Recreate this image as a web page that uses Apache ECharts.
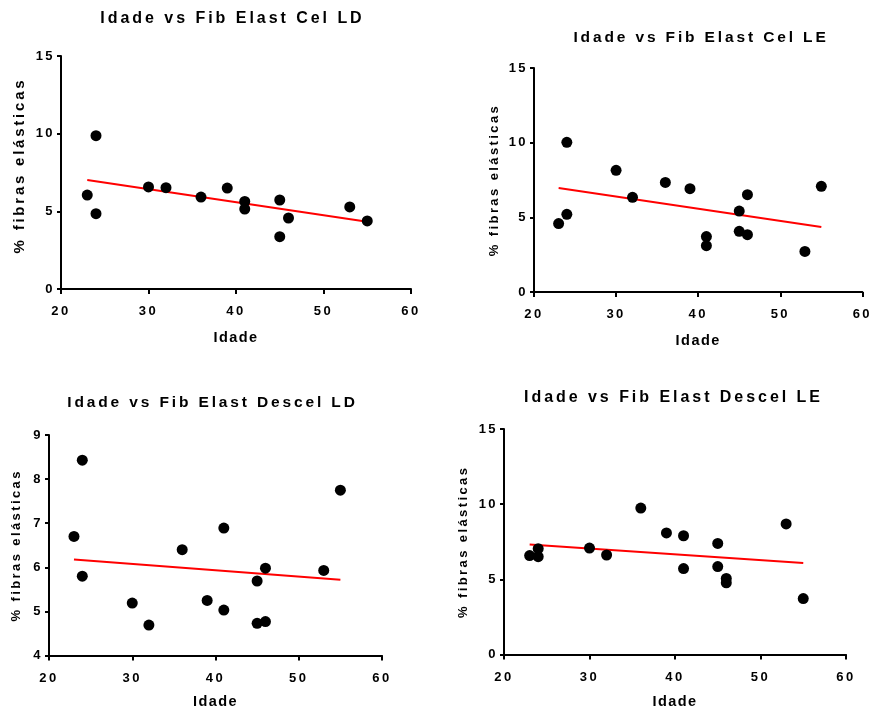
<!DOCTYPE html>
<html>
<head>
<meta charset="utf-8">
<script src="https://cdn.jsdelivr.net/npm/echarts@6/dist/echarts.min.js"></script>
<style>
html,body{margin:0;padding:0;background:#fff;}
#chart{width:875px;height:711px;}
</style>
</head>
<body>
<div id="chart"></div>
<script>
// ---- Data ----
const titles = ['Idade vs Fib Elast Cel LD', 'Idade vs Fib Elast Cel LE', 'Idade vs Fib Elast Descel LD', 'Idade vs Fib Elast Descel LE'];
const xName = 'Idade';
const yName = '% fibras elásticas';

const ageCelLD = [23, 24, 24, 30, 32, 36, 39, 41, 41, 45, 45, 46, 53, 55];
const valCelLD = [6.05, 9.87, 4.85, 6.57, 6.52, 5.92, 6.50, 5.64, 5.15, 5.73, 3.37, 4.57, 5.28, 4.38];

const ageCelLE = [23, 24, 24, 30, 32, 36, 39, 41, 41, 45, 45, 46, 46, 53, 55];
const valCelLE = [4.58, 10.02, 5.20, 8.15, 6.34, 7.34, 6.92, 3.71, 3.10, 5.42, 4.06, 6.52, 3.84, 2.72, 7.08];

const ageDescelLD = [23, 24, 24, 30, 32, 36, 39, 41, 41, 45, 45, 46, 46, 53, 55];
const valDescelLD = [6.70, 8.43, 5.80, 5.19, 4.69, 6.40, 5.25, 6.89, 5.03, 5.69, 4.73, 5.98, 4.77, 5.93, 7.75];

const ageDescelLE = [23, 24, 24, 30, 32, 36, 39, 41, 41, 45, 45, 46, 46, 53, 55];
const valDescelLE = [6.58, 7.04, 6.51, 7.08, 6.62, 9.74, 8.09, 7.90, 5.72, 7.39, 5.85, 5.06, 4.77, 8.69, 3.72];

// regression line endpoints
const fitX = [23, 55];
const fitCelLD = [7.02, 4.33];
const fitCelLE = [6.96, 4.35];
const fitDescelLD = [6.18, 5.72];
const fitDescelLE = [7.32, 6.09];

const xTicks = {min: 20, max: 60, interval: 10};
const yTicksMain = {min: 0, max: 15, interval: 5};
const yTicksDescelLD = {min: 4, max: 9, interval: 1};

// ---- letter spacing like the original (Prism style) ----
(function(){
  const proto = CanvasRenderingContext2D.prototype;
  if (!('letterSpacing' in proto)) return;
  const oFill = proto.fillText, oMeasure = proto.measureText;
  function ls(ctx){
    const f = ctx.font || '';
    const m = /(\d+(?:\.\d+)?)px/.exec(f);
    const size = m ? parseFloat(m[1]) : 12;
    const ratio = f.indexOf('xnamels') >= 0 ? 0.1 : 0.185;
    ctx.letterSpacing = (size * ratio).toFixed(2) + 'px';
  }
  proto.fillText = function(){ ls(this); return oFill.apply(this, arguments); };
  proto.measureText = function(){ ls(this); return oMeasure.apply(this, arguments); };
})();

// ---- Layout ----
const FONT = '"Liberation Sans", Arial, sans-serif';
const FONT_XNAME = '"Liberation Sans", Arial, xnamels, sans-serif';
const grids = [
  {left: 61, top: 56, width: 350, height: 233},
  {left: 534, top: 68, width: 335, height: 224},
  {left: 49, top: 435, width: 333, height: 223},
  {left: 504, top: 429, width: 342, height: 228}
];
const titlePos = [
  {x: 232.5, y: 9, size: 16},
  {x: 701, y: 28, size: 15.5},
  {x: 212.5, y: 393.5, size: 15.5},
  {x: 673.5, y: 388.5, size: 16}
];
const yNameSizes = [15, 13, 13, 13];
const yNameGaps = [32, 32, 25, 33];
const yNamePad = [[0, 0, 0, 14], 0, 0, 0];
const xNameGaps = [41, 41, 38, 39];
const yRanges = [yTicksMain, yTicksMain, yTicksDescelLD, yTicksMain];
const ages = [ageCelLD, ageCelLE, ageDescelLD, ageDescelLE];
const vals = [valCelLD, valCelLE, valDescelLD, valDescelLE];
const fits = [fitCelLD, fitCelLE, fitDescelLD, fitDescelLE];

const axisLine = {show: true, onZero: false, lineStyle: {color: '#000', width: 2}};
const axisTick = {show: true, inside: false, length: 5, lineStyle: {color: '#000', width: 2}};

const option = {
  backgroundColor: '#fff',
  animation: false,
  title: titles.map((t, i) => ({
    text: t,
    left: titlePos[i].x,
    top: titlePos[i].y,
    textAlign: 'center',
    padding: 0,
    textStyle: {fontFamily: FONT, fontWeight: 'bold', fontSize: titlePos[i].size, color: '#000'}
  })),
  grid: grids.map(g => Object.assign({containLabel: false}, g)),
  xAxis: grids.map((g, i) => ({
    type: 'value', gridIndex: i,
    min: xTicks.min, max: xTicks.max, interval: xTicks.interval,
    name: xName, nameLocation: 'middle', nameGap: xNameGaps[i],
    nameTextStyle: {fontFamily: FONT_XNAME, fontWeight: 'bold', fontSize: 14.5, color: '#000'},
    axisLine: axisLine, axisTick: axisTick,
    axisLabel: {fontFamily: FONT, fontWeight: 'bold', fontSize: 13, color: '#000', margin: 15},
    splitLine: {show: false}
  })),
  yAxis: grids.map((g, i) => ({
    type: 'value', gridIndex: i,
    min: yRanges[i].min, max: yRanges[i].max, interval: yRanges[i].interval,
    name: yName, nameLocation: 'middle', nameGap: yNameGaps[i], nameRotate: 90,
    nameTextStyle: {fontFamily: FONT, fontWeight: 'bold', fontSize: yNameSizes[i], color: '#000', padding: yNamePad[i]},
    axisLine: axisLine, axisTick: Object.assign({}, axisTick, {length: 4}),
    axisLabel: {fontFamily: FONT, fontWeight: 'bold', fontSize: 13, color: '#000', margin: 6},
    splitLine: {show: false}
  })),
  series: []
};

for (let i = 0; i < 4; i++) {
  option.series.push({
    type: 'line', xAxisIndex: i, yAxisIndex: i,
    data: fitX.map((x, k) => [x, fits[i][k]]),
    symbol: 'none', lineStyle: {color: '#ff0000', width: 2}, z: 2
  });
  option.series.push({
    type: 'scatter', xAxisIndex: i, yAxisIndex: i,
    data: ages[i].map((a, k) => [a, vals[i][k]]),
    symbol: 'circle', symbolSize: 11,
    itemStyle: {color: '#000', opacity: 1}, z: 3
  });
}

const chart = echarts.init(document.getElementById('chart'), null, {renderer: 'canvas'});
chart.setOption(option);
</script>
</body>
</html>
